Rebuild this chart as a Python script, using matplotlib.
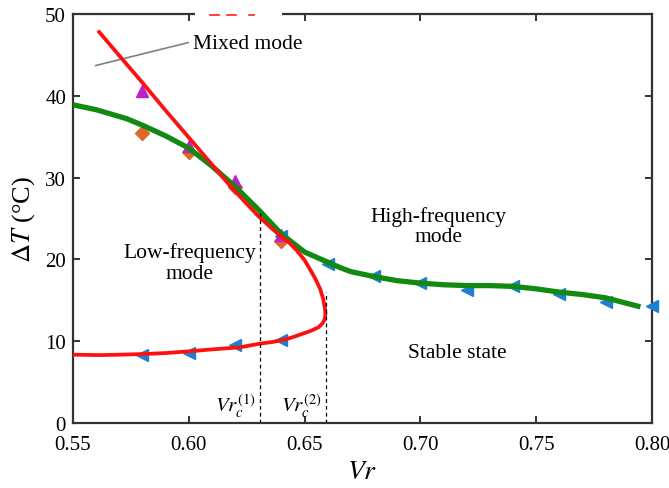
import matplotlib
matplotlib.use("Agg")
import matplotlib.pyplot as plt
from matplotlib.patches import Rectangle

plt.rcParams['font.family'] = ['Liberation Serif', 'DejaVu Serif']
plt.rcParams['mathtext.fontset'] = 'stix'

# ---- data ----
# red stability boundary (upper straight branch -> nose -> lower branch)
red_x = [0.5613, 0.570, 0.580, 0.590, 0.600, 0.610, 0.6178, 0.624, 0.630, 0.635,
         0.6394, 0.6435, 0.6466, 0.6500, 0.6523, 0.6547, 0.6567, 0.6580, 0.6588,
         0.6590, 0.6587, 0.6578, 0.6560, 0.6530, 0.6490, 0.6445, 0.6407, 0.6360,
         0.6307, 0.6220, 0.6100, 0.6018, 0.5900, 0.5820, 0.5700, 0.5617, 0.550]
red_y = [47.8, 44.9, 41.6, 38.2, 34.9, 31.6, 29.0, 27.1, 25.3, 24.0,
         22.9, 22.0, 21.1, 19.9, 18.8, 17.6, 16.4, 15.2, 14.0,
         13.3, 12.7, 12.2, 11.7, 11.3, 10.9, 10.45, 10.15, 9.9,
         9.7, 9.25, 9.0, 8.8, 8.55, 8.45, 8.35, 8.3, 8.35]

# green curve (high / low frequency transition)
green_x = [0.550, 0.560, 0.5732, 0.580, 0.590, 0.600, 0.610, 0.620, 0.630, 0.640,
           0.650, 0.6653, 0.670, 0.680, 0.690, 0.700, 0.710, 0.720, 0.730, 0.740,
           0.750, 0.760, 0.770, 0.780, 0.795]
green_y = [38.9, 38.3, 37.2, 36.4, 35.1, 33.6, 31.4, 28.9, 26.1, 23.1,
           20.9, 19.0, 18.5, 17.9, 17.4, 17.1, 16.9, 16.8, 16.8, 16.7,
           16.4, 16.0, 15.7, 15.3, 14.2]

# blue triangles (left-pointing)
blue_x = [0.58, 0.60, 0.62, 0.64, 0.64, 0.66, 0.68, 0.70, 0.72, 0.74, 0.76, 0.78, 0.80]
blue_y = [8.3, 8.6, 9.5, 10.2, 22.8, 19.4, 18.0, 17.1, 16.3, 16.7, 15.8, 14.8, 14.3]

# orange diamonds
orange_x = [0.58, 0.60, 0.62, 0.64]
orange_y = [35.4, 33.1, 28.9, 22.3]

# magenta triangles (up)
mag_x = [0.58, 0.60, 0.62, 0.64]
mag_y = [40.6, 33.9, 29.6, 23.0]

vrc1 = 0.6307
vrc2 = 0.6591
vrc1_top = 25.8
vrc2_top = 16.0

xticks = [0.55, 0.60, 0.65, 0.70, 0.75, 0.80]
xticklabels = ['0.55', '0.60', '0.65', '0.70', '0.75', '0.80']
yticks = [0, 10, 20, 30, 40, 50]

# ---- figure ----
fig = plt.figure(figsize=(6.69, 4.89), dpi=100)
ax = fig.add_axes([73/669, 1-424/489, (652-73)/669, (424-15)/489])

ax.set_xlim(0.55, 0.80)
ax.set_ylim(0, 50)

ax.plot(blue_x, blue_y, ls='none', marker='<', ms=9, color='#1f7fd0', mec='#1f7fd0',
        zorder=3, clip_on=False)
ax.plot(orange_x, orange_y, ls='none', marker='D', ms=7, color='#e0672a', zorder=3)
ax.plot(mag_x, mag_y, ls='none', marker='^', ms=9, color='#c020c8', zorder=3)

ax.plot(green_x, green_y, color='#108a10', lw=3.8, solid_capstyle='butt', zorder=4)
ax.plot(red_x, red_y, color='#ff1010', lw=2.7, zorder=5)

ax.plot([vrc1, vrc1], [0, vrc1_top], ls='--', color='black', lw=0.9, dashes=(3, 2.5), zorder=6)
ax.plot([vrc2, vrc2], [0, vrc2_top], ls='--', color='black', lw=0.9, dashes=(3, 2.5), zorder=6)

# annotation
ax.plot([0.5598, 0.5997], [43.7, 46.5], color='#808080', lw=1.2)
ax.text(0.6018, 46.4, 'Mixed mode', fontsize=15.5, ha='left', va='center')
ax.text(0.7076, 24.1, 'High-frequency\nmode', fontsize=15.5, ha='center', va='center',
        linespacing=1.1)
ax.text(0.6005, 19.6, 'Low-frequency\nmode', fontsize=15.5, ha='center', va='center',
        linespacing=1.1)
ax.text(0.7158, 8.56, 'Stable state', fontsize=15.5, ha='center', va='center')
ax.text(0.6200, 2.1, r'$Vr_c^{(1)}$', fontsize=15, ha='center', va='center')
ax.text(0.6485, 2.1, r'$Vr_c^{(2)}$', fontsize=15, ha='center', va='center')

ax.set_xticks(xticks)
ax.set_xticklabels(xticklabels)
ax.set_yticks(yticks)
ax.tick_params(direction='in', length=5, width=1.4, top=True, right=True,
               labelsize=15, colors='#333333', labelcolor='black')
ax.tick_params(axis='x', pad=9)
ax.tick_params(axis='y', pad=5)
for s in ax.spines.values():
    s.set_linewidth(1.6)
    s.set_color('#333333')

ax.set_xlabel(r'$Vr$', fontsize=20, labelpad=3)
ax.set_ylabel(r'$\Delta T$ (°C)', fontsize=19, labelpad=6)

# gap in the top frame (artifact of the original)
ax.add_patch(Rectangle((0.6027, 48.8), 0.0375, 1.9, transform=ax.transData,
                       facecolor='white', edgecolor='none', clip_on=False, zorder=10))
ax.plot([0.6092, 0.6130], [49.9, 49.9], color='#ff2020', lw=1.2, clip_on=False, zorder=11)
ax.plot([0.6165, 0.6205], [49.9, 49.9], color='#ff2020', lw=1.2, clip_on=False, zorder=11)
ax.plot([0.6260, 0.6280], [49.9, 49.9], color='#ff2020', lw=1.2, clip_on=False, zorder=11)

fig.savefig('out.png', dpi=100)
